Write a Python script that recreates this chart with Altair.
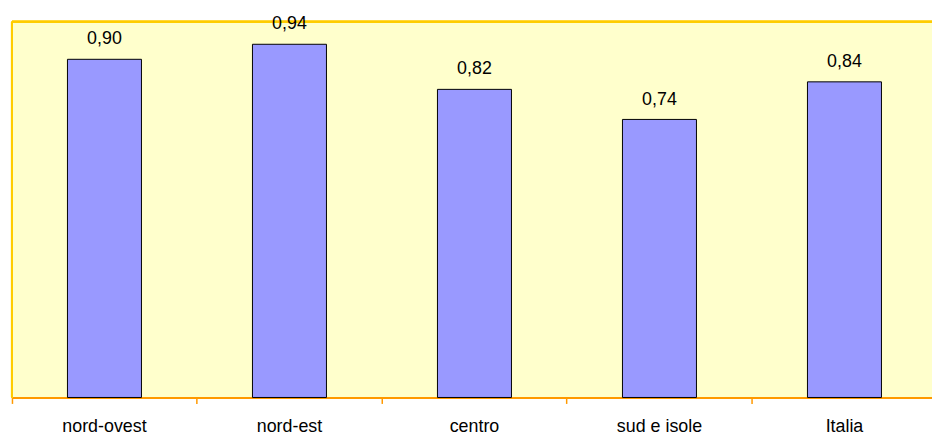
import altair as alt
import pandas as pd

regions = ["nord-ovest", "nord-est", "centro", "sud e isole", "Italia"]
values = [0.90, 0.94, 0.82, 0.74, 0.84]

df = pd.DataFrame({"regione": regions, "valore": values})

base = alt.Chart(df).transform_calculate(
    etichetta="replace(format(datum.valore, '.2f'), '.', ',')"
)

x = alt.X(
    "regione:N",
    sort=regions,
    scale=alt.Scale(paddingInner=0, paddingOuter=0, range=[0, 933]),
    axis=alt.Axis(
        title=None,
        labelAngle=0,
        bandPosition=0,
        domainColor="#FF9900",
        domainWidth=2,
        tickColor="#FF9900",
        tickSize=6,
        tickWidth=1.5,
        labelFont="Liberation Sans",
        labelFontSize=18,
        labelColor="#000000",
        labelPadding=14,
        grid=False,
    ),
)
y = alt.Y("valore:Q", scale=alt.Scale(domain=[0, 1]), axis=None)

bars = base.mark_bar(
    width=alt.RelativeBandSize(0.4), color="#9999FF", stroke="#000000", strokeWidth=1
).encode(x=x, y=y)

labels = base.mark_text(
    dy=-15, baseline="alphabetic", align="center",
    font="Liberation Sans", fontSize=18, color="#000000"
).encode(x=x, y=y, text="etichetta:N")

top_border = alt.Chart(df).mark_rule(color="#FFCC00", strokeWidth=2).encode(
    x=alt.value(0), x2=alt.value(928), y=alt.value(0)
)
left_border = alt.Chart(df).mark_rule(color="#FFCC00", strokeWidth=2).encode(
    x=alt.value(0), y=alt.value(0), y2=alt.value(379)
)

chart = alt.layer(top_border, left_border, bars, labels).properties(
    width=928,
    height=379,
    padding={"left": 4, "top": 12, "right": 0, "bottom": 37},
    autosize=alt.AutoSizeParams(type="none"),
).configure_view(fill="#FFFFCC", strokeWidth=0)

chart.save("out.html", embed_options={"renderer": "svg", "actions": False})
